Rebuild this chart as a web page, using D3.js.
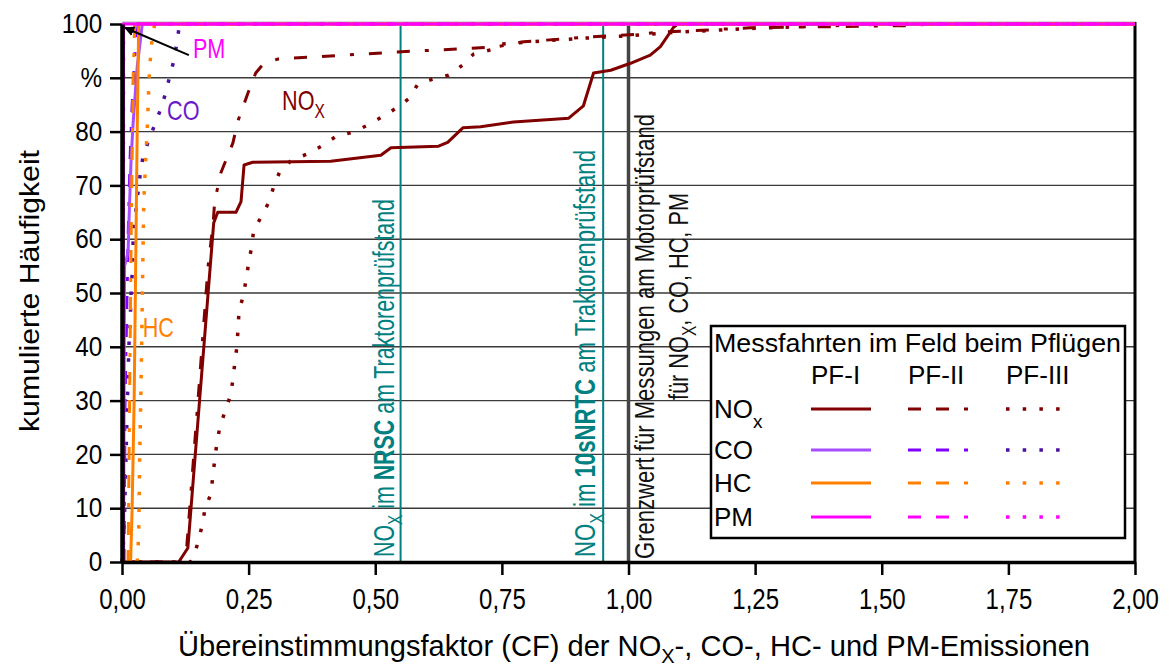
<!DOCTYPE html>
<html>
<head>
<meta charset="utf-8">
<script src="https://cdn.jsdelivr.net/npm/d3@7"></script>
<style>
  body { margin: 0; background: #fff; }
  svg { display: block; font-family: "Liberation Sans", Arial, sans-serif; }
</style>
</head>
<body>
<svg id="chart" width="1170" height="669"></svg>
<script>
// tick values / labels
const cfTicks = [0, 0.25, 0.5, 0.75, 1, 1.25, 1.5, 1.75, 2];
const cfTickLabels = ["0,00", "0,25", "0,50", "0,75", "1,00", "1,25", "1,50", "1,75", "2,00"];
const pctTicks = [0, 10, 20, 30, 40, 50, 60, 70, 80, 90, 100];
const pctTickLabels = ["0", "10", "20", "30", "40", "50", "60", "70", "80", "%", "100"];

// limits (CF)
const limitNRSC = 0.55;
const limit10sNRTC = 0.95;
const limitEngine = 1.0;

// cumulative curves: [CF, cumulative %]
const noxPF1 = [[0, 0], [0.112, 0], [0.13, 2.6], [0.181, 63], [0.189, 65], [0.225, 65], [0.235, 67],
  [0.241, 73.8], [0.258, 74.3], [0.412, 74.5], [0.511, 75.6], [0.531, 77], [0.625, 77.3],
  [0.643, 78], [0.673, 80.7], [0.708, 80.9], [0.773, 81.8], [0.882, 82.5], [0.911, 84.8],
  [0.931, 90.9], [0.965, 91.4], [1.004, 92.7], [1.043, 94.2], [1.063, 95.8], [1.089, 99.4],
  [1.097, 100], [2, 100]];
const noxPF2 = [[0, 0], [0.115, 0], [0.128, 3], [0.15, 30], [0.17, 55], [0.18, 63], [0.183, 67],
  [0.195, 72.3], [0.219, 77.9], [0.229, 82], [0.248, 87], [0.264, 90.9], [0.28, 92.7],
  [0.308, 93.5], [0.544, 94.8], [0.734, 95.7], [0.761, 96.1], [0.793, 96.7], [0.925, 97.6],
  [1.018, 98.1], [1.063, 98.5], [1.116, 98.7], [1.24, 99.3], [1.55, 99.7], [1.6, 100], [2, 100]];
const noxPF3 = [[0, 0], [0.135, 0], [0.142, 1], [0.15, 3.7], [0.158, 6.7], [0.164, 9.9], [0.176, 12.8],
  [0.179, 15.8], [0.183, 18.9], [0.187, 21.9], [0.193, 25], [0.203, 27.9], [0.215, 31.2],
  [0.219, 34], [0.223, 37.2], [0.227, 40.1], [0.229, 43.3], [0.231, 46.5], [0.239, 49.4],
  [0.245, 52.4], [0.25, 55.6], [0.256, 58.6], [0.26, 61.7], [0.276, 64.3], [0.29, 66.9],
  [0.3, 69.9], [0.312, 72.7], [0.335, 74.7], [0.365, 75.8], [0.394, 77.3], [0.424, 79.2],
  [0.456, 79.9], [0.485, 81.2], [0.513, 82.7], [0.542, 84.4], [0.566, 86.1], [0.584, 88.8],
  [0.615, 89.8], [0.645, 90.5], [0.673, 92.4], [0.694, 94.4], [0.728, 95.2], [0.75, 96.3],
  [0.9, 97.3], [1.0, 97.8], [1.1, 98.5], [1.25, 99.2], [1.4, 99.7], [1.5, 100], [2, 100]];

const coPF1 = [[0.003, 0], [0.005, 55], [0.012, 57.6], [0.014, 64], [0.018, 75], [0.022, 81.6],
  [0.03, 92], [0.04, 100], [2, 100]];
const coPF2 = [[0.004, 0], [0.006, 30], [0.009, 45], [0.012, 60], [0.016, 75], [0.02, 85],
  [0.026, 95], [0.032, 100], [2, 100]];
const coPF3 = [[0, 0], [0.004, 5], [0.008, 20], [0.012, 35], [0.014, 41], [0.016, 44], [0.018, 50.2],
  [0.02, 53.5], [0.022, 59.5], [0.024, 62.6], [0.032, 69], [0.036, 72.1], [0.041, 75.1],
  [0.051, 77.9], [0.063, 80.9], [0.075, 83.8], [0.085, 86.8], [0.093, 89.8], [0.101, 92.7],
  [0.107, 95.7], [0.112, 98.9], [0.117, 100], [2, 100]];

const hcPF1 = [[0, 0], [0.017, 0], [0.02, 10], [0.024, 30], [0.027, 55], [0.03, 80], [0.033, 100], [2, 100]];
const hcPF2 = [[0.01, 0], [0.012, 0], [0.014, 20], [0.016, 40], [0.018, 60], [0.02, 75], [0.022, 90],
  [0.025, 100], [2, 100]];
const hcPF3 = [[0.03, 0], [0.033, 5], [0.035, 20], [0.038, 35], [0.041, 55], [0.043, 67], [0.047, 75],
  [0.051, 83], [0.053, 89], [0.057, 95], [0.061, 98.5], [0.065, 100], [2, 100]];

const pmPF1 = [[0.002, 0], [0.003, 100], [2, 100]];
const pmPF2 = [[0.002, 0], [0.003, 100], [2, 100]];
const pmPF3 = [[0.002, 0], [0.003, 100], [2, 100]];

const components = ["NOx", "CO", "HC", "PM"];
const runs = ["PF-I", "PF-II", "PF-III"];

const series = [
  { comp: "NOx", run: "PF-III", data: noxPF3 },
  { comp: "NOx", run: "PF-II", data: noxPF2 },
  { comp: "NOx", run: "PF-I", data: noxPF1 },
  { comp: "CO", run: "PF-III", data: coPF3 },
  { comp: "CO", run: "PF-II", data: coPF2 },
  { comp: "CO", run: "PF-I", data: coPF1 },
  { comp: "HC", run: "PF-III", data: hcPF3 },
  { comp: "HC", run: "PF-II", data: hcPF2 },
  { comp: "HC", run: "PF-I", data: hcPF1 },
  { comp: "PM", run: "PF-III", data: pmPF3 },
  { comp: "PM", run: "PF-II", data: pmPF2 },
  { comp: "PM", run: "PF-I", data: pmPF1 },
];

// styles
const colors = {
  "NOx": ["#800000", "#800000", "#800000"],
  "CO": ["#a64dff", "#7f00ff", "#4c0f9e"],
  "HC": ["#ff8000", "#ff8000", "#ff8000"],
  "PM": ["#ff00ff", "#ff00ff", "#ff00ff"],
};
const dashes = ["none", "13,15,13,15,4,15", "3.5,13.2"];
const widths = [3, 3, 3.5];
const teal = "#008080";

const svg = d3.select("#chart");

const x = d3.scaleLinear().domain([0, 2]).range([122, 1135]);
const y = d3.scaleLinear().domain([0, 100]).range([562, 24]);

// grid
svg.append("g")
  .selectAll("line")
  .data(pctTicks.filter((d) => d > 0 && d < 100))
  .join("line")
  .attr("x1", x(0)).attr("x2", x(2))
  .attr("y1", (d) => y(d)).attr("y2", (d) => y(d))
  .attr("stroke", "#3a3a3a").attr("stroke-width", 1.4);

// frame top / right
svg.append("line")
  .attr("x1", x(0)).attr("x2", x(2) + 1).attr("y1", y(100) - 1.5).attr("y2", y(100) - 1.5)
  .attr("stroke", "#b0b0b0").attr("stroke-width", 2);
svg.append("line")
  .attr("x1", x(2)).attr("x2", x(2)).attr("y1", y(100) - 2).attr("y2", y(0))
  .attr("stroke", "#000").attr("stroke-width", 3);

// limit lines
svg.append("g")
  .selectAll("line")
  .data([limitNRSC, limit10sNRTC])
  .join("line")
  .attr("x1", (d) => x(d)).attr("x2", (d) => x(d))
  .attr("y1", y(100)).attr("y2", y(0))
  .attr("stroke", teal).attr("stroke-width", 2);
svg.append("line")
  .attr("x1", x(limitEngine)).attr("x2", x(limitEngine))
  .attr("y1", y(100)).attr("y2", y(0))
  .attr("stroke", "#444").attr("stroke-width", 3.5);

// rotated texts with optional bold / subscript parts
function vtext(px, py, len, size, color, parts) {
  const t = svg.append("text")
    .attr("transform", `translate(${px},${py}) rotate(-90)`)
    .attr("font-size", size)
    .attr("fill", color)
    .attr("textLength", len)
    .attr("lengthAdjust", "spacingAndGlyphs");
  parts.forEach((p) => {
    const s = t.append("tspan").text(p.t);
    if (p.b) s.attr("font-weight", "bold");
    if (p.sub) s.attr("font-size", size * 0.72).attr("dy", size * 0.3);
    if (p.back) s.attr("dy", -size * 0.3);
  });
  return t;
}

vtext(x(limitNRSC) - 7, 557, 358, 29, teal, [
  { t: "NO" }, { t: "X", sub: true }, { t: " im ", back: true }, { t: "NRSC", b: true },
  { t: " am Traktorenprüfstand" }]);
vtext(x(limit10sNRTC) - 8, 557, 407, 29, teal, [
  { t: "NO" }, { t: "X", sub: true }, { t: " im ", back: true }, { t: "10sNRTC", b: true },
  { t: " am Traktorenprüfstand" }]);
vtext(x(limitEngine) + 25, 559, 445, 28, "#111", [
  { t: "Grenzwert für Messungen am Motorprüfstand" }]);
vtext(x(limitEngine) + 59, 400, 207, 28, "#111", [
  { t: "für NO" }, { t: "X", sub: true }, { t: ", CO, HC, PM", back: true }]);

// curves
const line = d3.line().x((d) => x(d[0])).y((d) => y(d[1]));

svg.append("g")
  .selectAll("path")
  .data(series)
  .join("path")
  .attr("d", (d) => line(d.data))
  .attr("fill", "none")
  .attr("stroke", (d) => colors[d.comp][runs.indexOf(d.run)])
  .attr("stroke-width", (d) => widths[runs.indexOf(d.run)])
  .attr("stroke-dasharray", (d) => dashes[runs.indexOf(d.run)])
  .attr("stroke-linejoin", "round");

// curve labels
function label(cf, pct, color, parts, size) {
  const t = svg.append("text")
    .attr("x", 0).attr("y", 0)
    .attr("transform", `translate(${x(cf)},${y(pct)}) scale(0.8,1)`)
    .attr("font-size", size).attr("fill", color);
  parts.forEach((p) => {
    const s = t.append("tspan").text(p.t);
    if (p.sub) s.attr("font-size", size * 0.72).attr("dy", size * 0.3);
  });
}
label(0.14, 93.7, "#ff00ff", [{ t: "PM" }], 27);
label(0.089, 82.2, "#6a1bc9", [{ t: "CO" }], 27);
label(0.041, 41.8, "#ff8000", [{ t: "HC" }], 27);
label(0.316, 84, "#800000", [{ t: "NO" }, { t: "X", sub: true }], 27);

// arrow to PM curve
svg.append("defs").append("marker")
  .attr("id", "arrow")
  .attr("viewBox", "0 0 10 10").attr("refX", 9).attr("refY", 5)
  .attr("markerWidth", 5).attr("markerHeight", 5)
  .attr("orient", "auto")
  .append("path").attr("d", "M0,0L10,5L0,10z").attr("fill", "#000");
svg.append("line")
  .attr("x1", x(0.132)).attr("y1", y(94.2))
  .attr("x2", x(0.006)).attr("y2", y(99.3))
  .attr("stroke", "#000").attr("stroke-width", 2)
  .attr("marker-end", "url(#arrow)");

// axes
const gX = svg.append("g").attr("transform", `translate(0,${y(0)})`);
gX.call(d3.axisBottom(x).tickValues(cfTicks)
  .tickFormat((d, i) => cfTickLabels[i])
  .tickSize(13).tickSizeOuter(0).tickPadding(13));
gX.select(".domain").attr("stroke", "#000").attr("stroke-width", 3.5);
gX.selectAll(".tick line").attr("stroke", "#000").attr("stroke-width", 2.5);
gX.selectAll(".tick text")
  .attr("font-size", 30).attr("fill", "#000")
  .attr("font-family", "'Liberation Sans', Arial, sans-serif")
  .attr("transform", "scale(0.8,1)");

const gY = svg.append("g").attr("transform", `translate(${x(0)},0)`);
gY.call(d3.axisLeft(y).tickValues(pctTicks)
  .tickFormat((d, i) => pctTickLabels[i])
  .tickSize(12).tickSizeOuter(0).tickPadding(8));
gY.select(".domain").attr("stroke", "#000").attr("stroke-width", 4.5);
gY.selectAll(".tick line").attr("stroke", "#000").attr("stroke-width", 2.5);
gY.selectAll(".tick text")
  .attr("font-size", 27).attr("fill", "#000")
  .attr("font-family", "'Liberation Sans', Arial, sans-serif")
  .attr("transform", "scale(0.9,1)")
  .attr("x", -22);

// axis titles
const xt = svg.append("text")
  .attr("x", 634).attr("y", 656)
  .attr("text-anchor", "middle")
  .attr("font-size", 29)
  .attr("textLength", 912).attr("lengthAdjust", "spacingAndGlyphs");
xt.append("tspan").text("Übereinstimmungsfaktor (CF) der NO");
xt.append("tspan").text("X").attr("font-size", 20).attr("dy", 7);
xt.append("tspan").text("-, CO-, HC- und PM-Emissionen").attr("dy", -7);

svg.append("text")
  .attr("transform", "translate(39,291) rotate(-90)")
  .attr("text-anchor", "middle")
  .attr("font-size", 28)
  .attr("textLength", 282).attr("lengthAdjust", "spacingAndGlyphs")
  .text("kumulierte Häufigkeit");

// legend
const lg = svg.append("g");
lg.append("rect")
  .attr("x", 711).attr("y", 326).attr("width", 414).attr("height", 212)
  .attr("fill", "#fff").attr("stroke", "#000").attr("stroke-width", 2.5);
lg.append("text")
  .attr("x", 714).attr("y", 352).attr("font-size", 26)
  .attr("textLength", 407).attr("lengthAdjust", "spacingAndGlyphs")
  .text("Messfahrten im Feld beim Pflügen");

const colX = [811, 908, 1006];
const rowY = [409, 450, 483, 517];
const rowLen = [60, 60, 54];

lg.selectAll(".hdr")
  .data(runs)
  .join("text")
  .attr("class", "hdr")
  .attr("x", (d, i) => colX[i]).attr("y", 384)
  .attr("font-size", 26)
  .text((d) => d);

components.forEach((c, r) => {
  const t = lg.append("text").attr("x", 714).attr("y", rowY[r] + 9).attr("font-size", 26);
  if (c === "NOx") {
    t.append("tspan").text("NO");
    t.append("tspan").text("x").attr("font-size", 19).attr("dy", 10);
  } else {
    t.text(c);
  }
  runs.forEach((run, k) => {
    lg.append("line")
      .attr("x1", colX[k]).attr("x2", colX[k] + rowLen[k])
      .attr("y1", rowY[r]).attr("y2", rowY[r])
      .attr("stroke", colors[c][k])
      .attr("stroke-width", widths[k])
      .attr("stroke-dasharray", dashes[k]);
  });
});
</script>
</body>
</html>
